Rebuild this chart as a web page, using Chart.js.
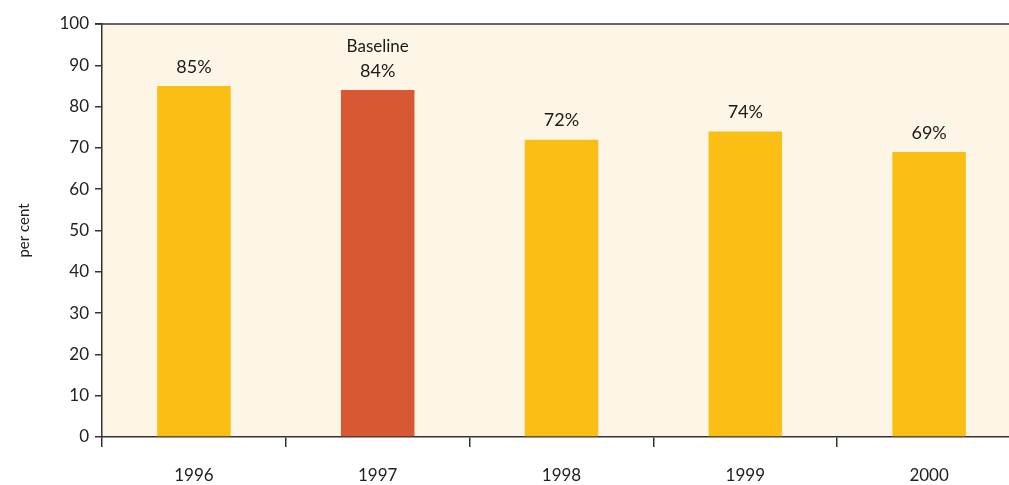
<!DOCTYPE html>
<html>
<head>
<meta charset="utf-8">
<script src="https://cdn.jsdelivr.net/npm/chart.js@4/dist/chart.umd.min.js"></script>
<style>
  html, body { margin: 0; padding: 0; background: #fff; overflow: hidden; }
  #wrap { width: 1021px; height: 485px; position: relative; }
</style>
</head>
<body>
<div id="wrap"><canvas id="chart"></canvas></div>
<script>
// donnees
const years = ['1996', '1997', '1998', '1999', '2000'];
const values = [85, 84, 72, 74, 69];
const notes = ['', 'Baseline', '', '', ''];
const barColors = ['#FBBE14', '#D95834', '#FBBE14', '#FBBE14', '#FBBE14'];

const FONT = 'Lato, "Open Sans", sans-serif';

// fond beige + ligne du haut
const plotBg = {
  id: 'plotBg',
  beforeDraw(chart) {
    const { ctx, chartArea: a } = chart;
    ctx.save();
    ctx.fillStyle = '#FDF5E6';
    ctx.fillRect(a.left, a.top, a.right - a.left, a.bottom - a.top);
    ctx.restore();
  },
  afterDraw(chart) {
    const { ctx, chartArea: a } = chart;
    ctx.save();
    ctx.strokeStyle = '#333';
    ctx.lineWidth = 1.5;
    ctx.beginPath();
    ctx.moveTo(a.left - 7, a.top);
    ctx.lineTo(a.right, a.top);
    ctx.stroke();
    ctx.restore();
  }
};

// etiquettes au-dessus des barres
const barLabels = {
  id: 'barLabels',
  afterDatasetsDraw(chart) {
    const { ctx } = chart;
    const meta = chart.getDatasetMeta(0);
    ctx.save();
    ctx.fillStyle = '#1a1a1a';
    ctx.textAlign = 'center';
    ctx.textBaseline = 'middle';
    ctx.font = '18px ' + FONT;
    meta.data.forEach((bar, i) => {
      ctx.fillText(values[i] + '%', bar.x, bar.y - 19);
      if (notes[i]) {
        ctx.font = '17px ' + FONT;
        ctx.fillText(notes[i], bar.x, bar.y - 44);
        ctx.font = '18px ' + FONT;
      }
    });
    ctx.restore();
  }
};

new Chart(document.getElementById('chart'), {
  type: 'bar',
  data: {
    labels: years,
    datasets: [{
      data: values,
      backgroundColor: barColors,
      barPercentage: 0.4,
      categoryPercentage: 1.0
    }]
  },
  options: {
    responsive: true,
    maintainAspectRatio: false,
    animation: false,
    layout: { padding: { top: 24, left: 0, right: 0, bottom: 0 } },
    plugins: {
      legend: { display: false },
      tooltip: { enabled: false }
    },
    scales: {
      x: {
        grid: { offset: true, drawOnChartArea: false, tickLength: 10, color: '#333', lineWidth: 1.5 },
        border: { color: '#333', width: 1.5 },
        ticks: { color: '#222', font: { family: FONT, size: 17 }, padding: 18 },
        afterFit(s) { s.height = 48; }
      },
      y: {
        min: 0,
        max: 100,
        ticks: { stepSize: 10, color: '#222', font: { family: FONT, size: 17 }, padding: 6 },
        grid: { drawOnChartArea: false, tickLength: 7, color: '#333', lineWidth: 1.5 },
        border: { color: '#333', width: 1.5 },
        title: { display: true, text: 'per cent', color: '#222', font: { family: FONT, size: 15 }, padding: { top: 15, bottom: 0 } },
        afterFit(s) { s.width = 102; }
      }
    }
  },
  plugins: [plotBg, barLabels]
});
</script>
</body>
</html>
